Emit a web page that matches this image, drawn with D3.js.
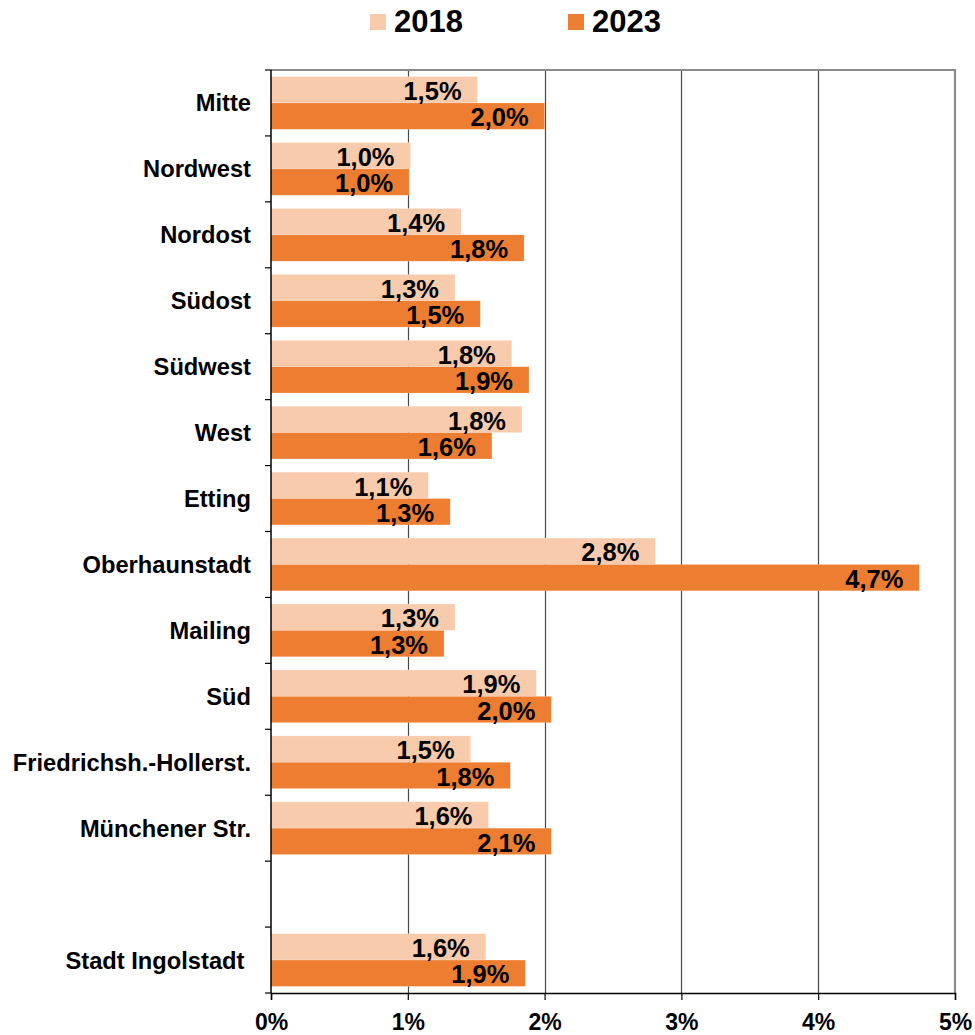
<!DOCTYPE html>
<html>
<head>
<meta charset="utf-8">
<script src="https://cdn.jsdelivr.net/npm/d3@7"></script>
<style>
    body { margin: 0; background: #fff; }
    svg { display: block; font-family: "Liberation Sans", Arial, sans-serif; font-weight: bold; }
</style>
</head>
<body>
<div id="chart"></div>
<script>
const categories = ["Mitte", "Nordwest", "Nordost", "Südost", "Südwest", "West", "Etting",
    "Oberhaunstadt", "Mailing", "Süd", "Friedrichsh.-Hollerst.", "Münchener Str.", "", "Stadt Ingolstadt "];
const seriesNames = ["2018", "2023"];
const values2018 = [1.51, 1.02, 1.39, 1.345, 1.76, 1.835, 1.15, 2.81, 1.345, 1.94, 1.46, 1.59, null, 1.57];
const values2023 = [2.0, 1.01, 1.85, 1.53, 1.886, 1.615, 1.31, 4.74, 1.265, 2.05, 1.75, 2.05, null, 1.86];
const labels2018 = ["1,5%", "1,0%", "1,4%", "1,3%", "1,8%", "1,8%", "1,1%", "2,8%", "1,3%", "1,9%", "1,5%", "1,6%", "", "1,6%"];
const labels2023 = ["2,0%", "1,0%", "1,8%", "1,5%", "1,9%", "1,6%", "1,3%", "4,7%", "1,3%", "2,0%", "1,8%", "2,1%", "", "1,9%"];
const xTicks = [0, 1, 2, 3, 4, 5];
const colors = ["#F8CBAD", "#ED7D31"];

(function () {
    const w = 975, h = 1035;
    const m = { top: 70, right: 20, bottom: 42, left: 271 };

    const svg = d3.select("#chart").append("svg")
        .attr("width", w)
        .attr("height", h);

    const x = d3.scaleLinear().domain([0, 5]).range([m.left, w - m.right]);
    const y = d3.scaleBand().domain(categories)
        .range([m.top, h - m.bottom])
        .paddingInner(0.2).paddingOuter(0.1);
    const ySub = d3.scaleBand().domain(seriesNames).range([0, y.bandwidth()]);

    const rows = categories.map((c, i) => ({
        cat: c,
        bars: [
            { s: "2018", v: values2018[i], label: labels2018[i] },
            { s: "2023", v: values2023[i], label: labels2023[i] }
        ]
    }));

    // gridlines
    svg.append("g").selectAll("line")
        .data(xTicks.slice(1, -1))
        .join("line")
        .attr("x1", d => Math.round(x(d)) + 0.5).attr("x2", d => Math.round(x(d)) + 0.5)
        .attr("y1", m.top).attr("y2", h - m.bottom)
        .attr("stroke", "#4a4a4a").attr("stroke-width", 1.2);

    // frame top + right
    svg.append("path")
        .attr("d", `M${x(0)},${m.top}H${x(5)}V${h - m.bottom}`)
        .attr("fill", "none").attr("stroke", "#8a8a8a").attr("stroke-width", 2.2);

    // bars
    const g = svg.append("g").selectAll("g")
        .data(rows.filter(r => r.cat !== ""))
        .join("g")
        .attr("transform", d => `translate(0,${y(d.cat)})`);

    g.selectAll("rect")
        .data(d => d.bars)
        .join("rect")
        .attr("x", x(0))
        .attr("y", d => ySub(d.s))
        .attr("width", d => x(d.v) - x(0))
        .attr("height", ySub.bandwidth())
        .attr("fill", (d, i) => colors[i])
        .attr("stroke", "#fff").attr("stroke-opacity", 0.35).attr("stroke-width", 0.6);

    g.selectAll("text")
        .data(d => d.bars)
        .join("text")
        .attr("x", d => x(d.v) - 16)
        .attr("y", d => ySub(d.s) + ySub.bandwidth() - 3)
        .attr("text-anchor", "end")
        .attr("font-size", 25.5)
        .attr("fill", "#000")
        .text(d => d.label);

    // left axis
    svg.append("line")
        .attr("x1", x(0)).attr("x2", x(0))
        .attr("y1", m.top).attr("y2", h - m.bottom)
        .attr("stroke", "#000").attr("stroke-width", 1.5);
    svg.append("g").selectAll("line")
        .data(d3.range(categories.length + 1))
        .join("line")
        .attr("x1", x(0) - 6).attr("x2", x(0))
        .attr("y1", i => m.top + i * y.step())
        .attr("y2", i => m.top + i * y.step())
        .attr("stroke", "#000").attr("stroke-width", 1.2);

    svg.append("g").selectAll("text")
        .data(categories)
        .join("text")
        .attr("x", x(0) - 20)
        .attr("y", d => y(d) + y.bandwidth() / 2 + 8.5)
        .attr("text-anchor", "end")
        .attr("font-size", 23.7)
        .style("white-space", "pre")
        .attr("fill", "#000")
        .text(d => d);

    // bottom axis
    const xAxis = svg.append("g")
        .attr("transform", `translate(0,${h - m.bottom})`)
        .call(d3.axisBottom(x).tickValues(xTicks).tickFormat(d => d + "%").tickSize(7).tickPadding(14));
    xAxis.select(".domain").attr("stroke", "#000").attr("stroke-width", 1.5);
    xAxis.selectAll(".tick line").attr("stroke", "#000").attr("stroke-width", 1.2);
    xAxis.selectAll(".tick text")
        .attr("font-size", 23).attr("font-family", null).attr("fill", "#000");
    xAxis.attr("font-family", null).attr("font-size", null);

    // legend
    const legendX = [370, 568];
    const legend = svg.append("g").selectAll("g")
        .data(seriesNames)
        .join("g")
        .attr("transform", (d, i) => `translate(${legendX[i]},14)`);
    legend.append("rect")
        .attr("width", 16).attr("height", 16)
        .attr("fill", (d, i) => colors[i]);
    legend.append("text")
        .attr("x", 24).attr("y", 18)
        .attr("font-size", 31)
        .attr("fill", "#000")
        .text(d => d);
})();
</script>
</body>
</html>
